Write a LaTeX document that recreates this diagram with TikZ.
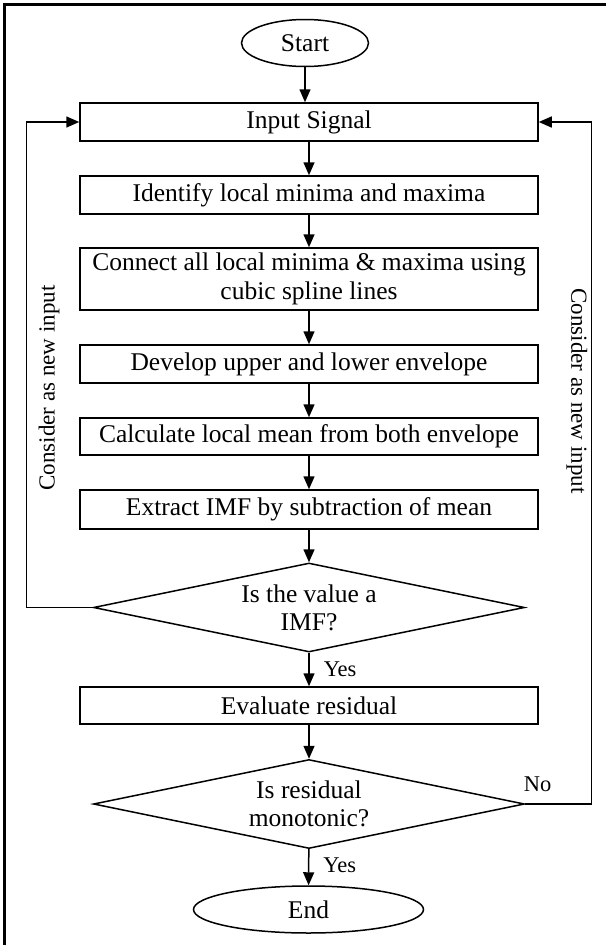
\documentclass[tikz,border=0pt]{standalone}
\usepackage{fontspec}
\setmainfont{Liberation Serif}
\usetikzlibrary{shapes.geometric,arrows.meta}
\begin{document}
\begin{tikzpicture}[x=1pt,y=1pt,
  mainfont/.style={font=\fontsize{25.5}{28.3}\selectfont},
  box/.style={draw,line width=1.5pt,minimum width=458pt,inner sep=0pt,align=center,mainfont},
  term/.style={draw,ellipse,line width=1.5pt,inner sep=0pt,mainfont},
  dec/.style={draw,diamond,line width=1.5pt,minimum width=431pt,minimum height=89pt,inner sep=0pt,aspect=4.84,align=center,mainfont},
  arr/.style={line width=1.5pt,-{Triangle[length=13pt,width=11pt]}},
  lbl/.style={font=\fontsize{22.5}{26}\selectfont,inner sep=0pt},
  side/.style={font=\fontsize{23}{26}\selectfont,inner sep=0pt}]
\useasboundingbox (0,0) rectangle (606,-945);
\fill[white] (0,0) rectangle (606,-945);
\draw[line width=2.5pt] (4.5,-945) -- (4.5,-4.5) -- (606,-4.5);

\node[term,minimum width=127pt,minimum height=47pt] (start) at (305,-43) {Start};
\node[box,minimum height=38pt] (input) at (309,-122) {Input Signal};
\node[box,minimum height=38pt] (ident) at (309,-195) {Identify local minima and maxima};
\node[box,minimum height=62pt] (conn) at (309,-279) {Connect all local minima \& maxima using\\cubic spline lines};
\node[box,minimum height=38pt] (dev) at (309,-364) {Develop upper and lower envelope};
\node[box,minimum height=37pt] (calc) at (309,-436.5) {Calculate local mean from both envelope};
\node[box,minimum height=39pt] (extr) at (309,-509.5) {Extract IMF by subtraction of mean};
\node[dec] (d1) at (309,-607.5) {Is the value a\\IMF?};
\node[box,minimum height=37pt] (eval) at (309,-705.5) {Evaluate residual};
\node[dec] (d2) at (309,-804) {Is residual\\monotonic?};
\node[term,minimum width=230pt,minimum height=47pt] (end) at (308.5,-909.5) {End};

\coordinate (L) at (26.7,-122);
\coordinate (R) at (591.7,-122);

\draw[arr] (start.south) -- (start.south |- input.north);
\draw[arr] (input) -- (ident);
\draw[arr] (ident) -- (conn);
\draw[arr] (conn) -- (dev);
\draw[arr] (dev) -- (calc);
\draw[arr] (calc) -- (extr);
\draw[arr] (extr) -- (d1);
\draw[arr] (d1) -- (eval) node[midway,right=14pt,lbl] (yes1) {Yes};
\draw[arr] (eval) -- (d2);
\draw[arr] (d2) -- (end) node[midway,right=14pt,lbl,yshift=2pt] (yes2) {Yes};
\draw[arr] (d1.west) -| (L) -- (input.west);
\draw[arr] (d2.east) -| (R) -- (input.east);

\node[lbl] (no) at (537.5,-784) {No};
\node[side,rotate=90] (lnote) at (49,-388) {Consider as new input};
\node[side,rotate=-90] (rnote) at (577,-391) {Consider as new input};
\end{tikzpicture}
\end{document}
